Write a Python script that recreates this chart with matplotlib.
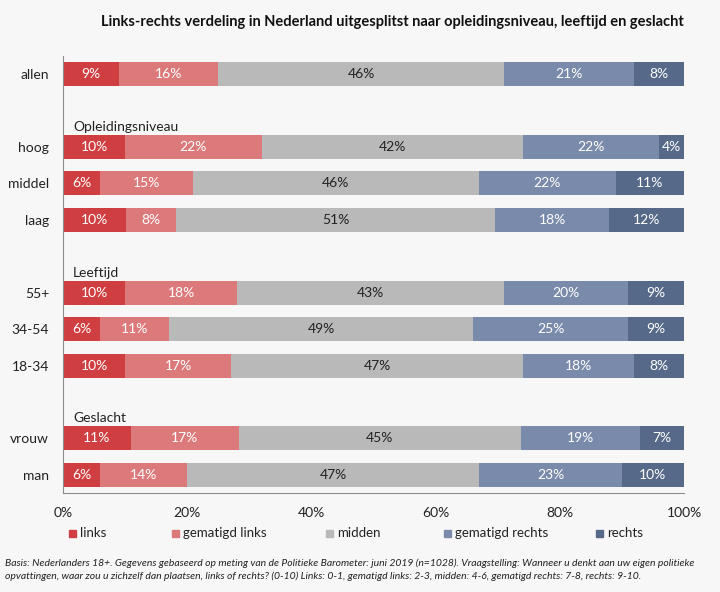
import matplotlib.pyplot as plt
from matplotlib.patches import Rectangle

plt.rcParams['font.family'] = ['Lato', 'DejaVu Sans']

# rijen (van boven naar beneden), None = lege rij met groepskop
rows = ['allen', None, 'hoog', 'middel', 'laag', None, '55+', '34-54', '18-34', None, 'vrouw', 'man']
headers = ['Opleidingsniveau', 'Leeftijd', 'Geslacht']

series = ['links', 'gematigd links', 'midden', 'gematigd rechts', 'rechts']
colors = ['#cf3f41', '#dc7a7b', '#b9b9b9', '#7a8aab', '#566989']

# waarden per categorie (geschat uit de balken), labels zijn afgerond
links      = [9.0, 10.0, 6.0, 10.1, 10.0, 6.0, 10.0, 10.9, 6.0]
gem_links  = [16.0, 22.0, 14.9, 8.1, 18.0, 11.1, 17.1, 17.4, 14.0]
midden     = [46.0, 42.1, 46.1, 51.4, 43.0, 48.9, 47.0, 45.4, 47.0]
gem_rechts = [21.0, 21.9, 22.0, 18.3, 20.0, 25.0, 17.9, 19.2, 23.0]
rechts     = [8.0, 4.0, 11.0, 12.2, 9.0, 9.0, 8.0, 7.1, 10.0]
labels = [
    [9, 16, 46, 21, 8],
    [10, 22, 42, 22, 4],
    [6, 15, 46, 22, 11],
    [10, 8, 51, 18, 12],
    [10, 18, 43, 20, 9],
    [6, 11, 49, 25, 9],
    [10, 17, 47, 18, 8],
    [11, 17, 45, 19, 7],
    [6, 14, 47, 23, 10],
]
values = [links, gem_links, midden, gem_rechts, rechts]

bg = '#f7f7f7'
fig = plt.figure(figsize=(7.2, 5.92), dpi=100, facecolor=bg)
ax = fig.add_axes([63/720, 1-493/592, 621/720, 437/592], facecolor=bg)

ypos = [i for i, r in enumerate(rows) if r is not None]
names = [r for r in rows if r is not None]

left = [0.0]*len(names)
for s, (vals, col) in enumerate(zip(values, colors)):
    bars = ax.barh(ypos, vals, left=left, height=0.66, color=col, label=series[s])
    for j, b in enumerate(bars):
        tc = '#222222' if s == 2 else 'white'
        ax.text(left[j] + vals[j]/2, ypos[j], f'{labels[j][s]}%', ha='center', va='center',
                fontsize=10, color=tc)
    left = [l + v for l, v in zip(left, vals)]

# groepskoppen
hdr_pos = [i for i, r in enumerate(rows) if r is None]
for p, h in zip(hdr_pos, headers):
    ax.text(1.6, p + 0.45, h, ha='left', va='center', fontsize=10, color='#222222')

ax.set_ylim(11.5, -0.5)
ax.set_xlim(0, 100)
ax.set_yticks(ypos)
ax.set_yticklabels(names, fontsize=10, color='#222222')
ax.set_xticks([0, 20, 40, 60, 80, 100])
ax.set_xticklabels(['0%', '20%', '40%', '60%', '80%', '100%'], fontsize=10, color='#222222')
ax.tick_params(length=0)
ax.tick_params(axis='y', pad=10)
ax.tick_params(axis='x', pad=10)
for sp in ['top', 'right']:
    ax.spines[sp].set_visible(False)
for sp in ['left', 'bottom']:
    ax.spines[sp].set_color('#8c8c8c')

fig.text(684/720, 1-22/592, 'Links-rechts verdeling in Nederland uitgesplitst naar opleidingsniveau, leeftijd en geslacht',
         ha='right', va='center', fontsize=10.5, fontweight='bold', color='#111111')

# legenda
leg_x = [73, 176, 330, 448, 600]
for x, name, col in zip(leg_x, series, colors):
    fig.patches.append(Rectangle((x/720 - 4/720, 1-537/592), 7/720, 7/592,
                                 transform=fig.transFigure, color=col))
    fig.text(x/720 + 7/720, 1-533/592, name, ha='left', va='center', fontsize=9.5, color='#222222')

fig.text(5/720, 1-570/592,
         'Basis: Nederlanders 18+. Gegevens gebaseerd op meting van de Politieke Barometer: juni 2019 (n=1028). '
         'Vraagstelling: Wanneer u denkt aan uw eigen politieke\n'
         'opvattingen, waar zou u zichzelf dan plaatsen, links of rechts? (0-10) Links: 0-1, gematigd links: 2-3, '
         'midden: 4-6, gematigd rechts: 7-8, rechts: 9-10.',
         ha='left', va='center', fontsize=7.5, style='italic', color='#222222', linespacing=1.45)

fig.savefig('out.png', dpi=100, facecolor=bg)
